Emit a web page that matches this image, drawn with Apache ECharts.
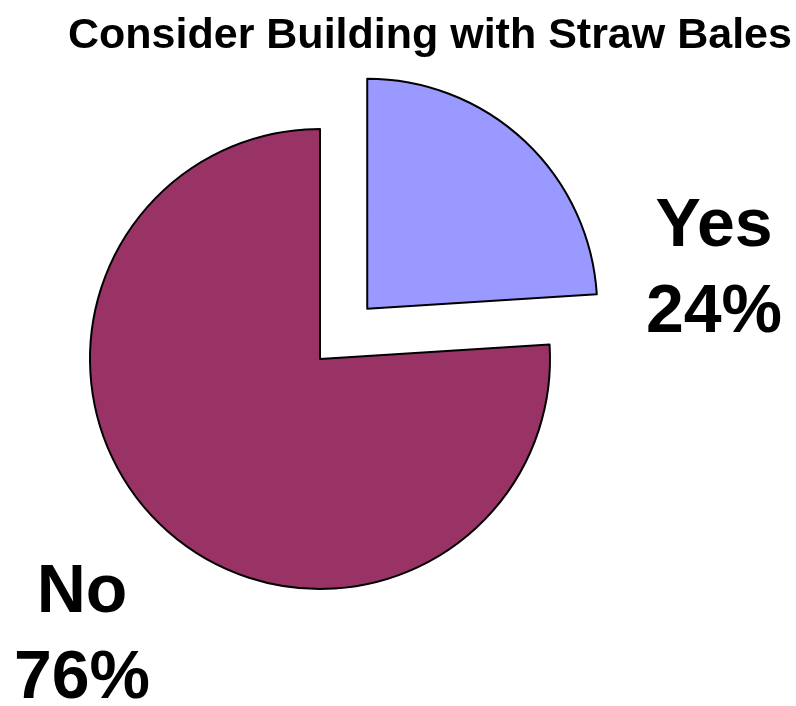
<!DOCTYPE html>
<html>
<head>
<meta charset="utf-8">
<script src="https://cdn.jsdelivr.net/npm/echarts@6/dist/echarts.min.js"></script>
<style>html,body{margin:0;padding:0;background:#fff;}#c{width:796px;height:706px;}</style>
</head>
<body>
<div id="c"></div>
<script>
const titleText = "Consider Building with Straw Bales";
const categories = ["Yes", "No"];
const values = [24, 76];
const selected = [true, false];
const colors = ["#9999FF", "#993366"];
const labelPos = [[714, 270], [82, 636]];
const explode = 69;

const total = values.reduce(function (a, b) { return a + b; }, 0);
function selOffset(i) {
  if (!selected[i]) return [0, 0];
  let before = 0;
  for (let k = 0; k < i; k++) before += values[k];
  const mid = (before + values[i] / 2) / total * Math.PI * 2;
  return [Math.sin(mid) * explode, -Math.cos(mid) * explode];
}

const chart = echarts.init(document.getElementById('c'), null, {renderer: 'canvas'});
chart.setOption({
  animation: false,
  backgroundColor: '#ffffff',
  title: {
    text: titleText,
    left: 63,
    top: 10,
    textStyle: {fontFamily: 'Liberation Sans, Arial, sans-serif', fontWeight: 'bold', fontSize: 43, color: '#000'}
  },
  series: [{
    type: 'pie',
    center: [320, 359],
    radius: 230,
    startAngle: 90,
    clockwise: true,
    selectedMode: 'single',
    selectedOffset: explode,
    avoidLabelOverlap: false,
    emphasis: {disabled: true},
    itemStyle: {borderColor: '#000', borderWidth: 2},
    label: {
      show: true,
      position: 'outside',
      overflow: 'none',
      formatter: function (p) { return p.name + '\n' + p.value + '%'; },
      fontFamily: 'Liberation Sans, Arial, sans-serif',
      fontWeight: 'bold',
      fontSize: 68,
      lineHeight: 86,
      color: '#000'
    },
    labelLine: {show: false},
    labelLayout: function (params) {
      const i = params.dataIndex;
      const p = labelPos[i];
      const r = params.labelRect;
      let anchorX = r.x + r.width / 2;
      if (params.align === 'left') anchorX = r.x;
      else if (params.align === 'right') anchorX = r.x + r.width;
      const o = selOffset(i);
      return {
        align: 'center',
        dx: p[0] - anchorX - o[0],
        dy: p[1] - (r.y + r.height / 2) - o[1]
      };
    },
    data: categories.map(function (n, i) {
      return {name: n, value: values[i], selected: selected[i], itemStyle: {color: colors[i]}};
    })
  }]
});
</script>
</body>
</html>
